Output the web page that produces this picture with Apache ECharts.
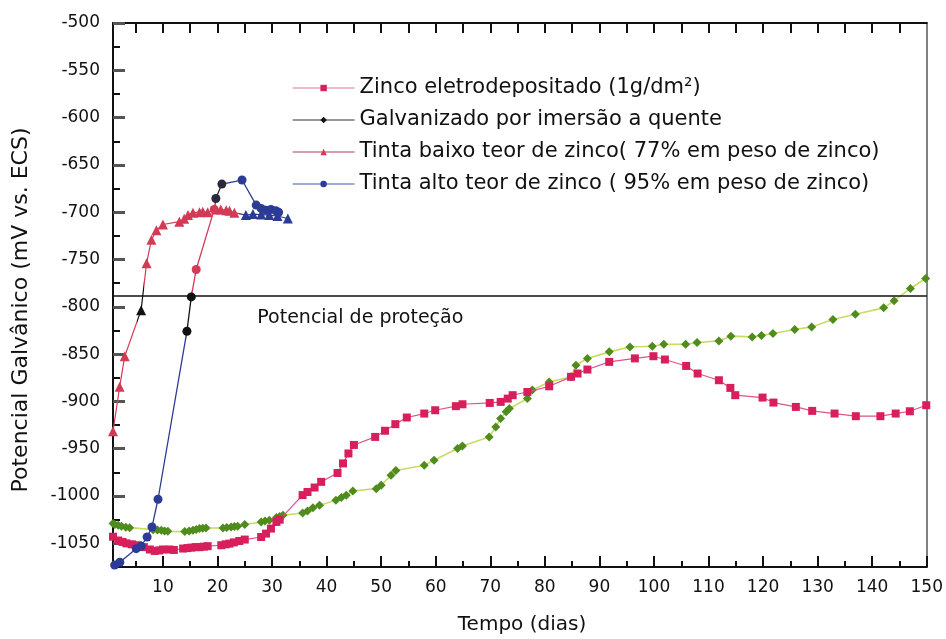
<!DOCTYPE html>
<html>
<head>
<meta charset="utf-8">
<script src="https://cdn.jsdelivr.net/npm/echarts@6/dist/echarts.min.js"></script>
<style>
  html, body { margin: 0; padding: 0; background: #ffffff; }
  #chart { width: 946px; height: 639px; }
</style>
</head>
<body>
<div id="chart"></div>
<script>
// Series names (legend order)
const nameZinco = 'Zinco eletrodepositado (1g/dm²)';
const nameGalv = 'Galvanizado por imersão a quente';
const nameBaixo = 'Tinta baixo teor de zinco( 77% em peso de zinco)';
const nameAlto = 'Tinta alto teor de zinco ( 95% em peso de zinco)';

// [tempo (dias), potencial (mV vs. ECS)]
const zincoEletro = [
  [0.85, -1043], [1.8, -1047], [2.6, -1048.5], [3.3, -1050], [4.3, -1051], [5.4, -1052],
  [6.5, -1054], [7.6, -1056.5], [8.5, -1058], [9.3, -1057.5], [10, -1056.5], [11.2, -1056.5],
  [12, -1057], [13.7, -1055.5], [14.5, -1055], [15.2, -1054.5], [16, -1054], [16.7, -1054],
  [17.5, -1053.5], [18.2, -1053], [20.7, -1052], [21.5, -1051], [22.2, -1050.3], [23, -1049],
  [24, -1047.5], [25, -1046], [28, -1043.3], [28.9, -1039.7], [29.8, -1034.4], [30.8, -1027.4],
  [31.4, -1025], [35.6, -999], [36.5, -995.7], [37.8, -991], [39, -985], [42, -975.6],
  [43, -965.5], [44, -955], [45, -946], [48.9, -937.5], [50.7, -931], [52.6, -924],
  [54.7, -917], [57.9, -912.8], [59.9, -909.3], [63.7, -905], [64.9, -903], [69.9, -901.6],
  [71.9, -900.5], [73.2, -897], [74.1, -893.4], [76.8, -890], [80.8, -884], [84.8, -874],
  [86, -870.5], [87.8, -866.3], [91.8, -858.2], [96.5, -854.5], [99.9, -852.2], [102, -855.7],
  [105.9, -862.5], [108, -870.5], [111.9, -877.6], [114, -885.7], [114.9, -893.4], [119.9, -895.9],
  [121.9, -901.2], [126, -905.8], [129, -910], [133.1, -912.8], [137, -915.6], [141.5, -915.6],
  [144.3, -912.8], [146.9, -910.4], [149.9, -904]
];

const galvanizado = [
  [0.85, -1029], [1.2, -1030], [1.8, -1031], [2.4, -1032], [3.2, -1033], [3.9, -1033.4],
  [8.2, -1035.5], [9, -1036], [9.7, -1036.2], [10.3, -1037], [10.9, -1037.3], [14, -1037.6],
  [14.8, -1037], [15.5, -1036.2], [16.1, -1035.3], [16.7, -1034.4], [17.3, -1034], [17.9, -1033.8],
  [21, -1033.8], [21.7, -1033.3], [22.5, -1032.7], [23.1, -1032.3], [23.7, -1032], [25, -1030],
  [28, -1027.4], [28.7, -1026.5], [29.5, -1025.6], [30.8, -1022.8], [31.4, -1021.5], [32, -1020.3],
  [35.6, -1017.9], [36.5, -1015.8], [37.5, -1012.5], [38.7, -1009.8], [41.7, -1004.5], [42.7, -1001.5],
  [43.6, -999.2], [44.8, -994.6], [49.1, -992.2], [50, -988.6], [51.8, -978], [52.7, -973],
  [57.9, -967.5], [59.7, -962.2], [64, -949.8], [64.9, -947], [69.8, -937.5], [71, -927],
  [71.9, -918], [72.9, -911], [73.5, -907.5], [76.8, -897], [77.7, -888], [80.8, -879.4],
  [84.8, -874], [85.7, -861.7], [87.8, -854.6], [91.8, -847.6], [95.6, -842.5], [99.7, -841.6],
  [101.8, -839.5], [105.8, -839.5], [107.9, -837.7], [111.9, -836], [114.1, -831], [118, -831.8],
  [119.7, -830.3], [121.8, -828.2], [125.8, -824], [128.9, -821.2], [132.8, -813.4], [136.9, -807.8],
  [142.1, -801.1], [144, -793.7], [147, -780.6], [149.8, -770]
];

const tintaBaixo = [
  [0.85, -931.5], [2.07, -884.6], [3, -852.2], [6, -803.5], [7, -754], [7.9, -729],
  [8.8, -719], [10, -713], [13, -710], [13.9, -707], [14.6, -703], [15.5, -700.5],
  [16.7, -700], [17.3, -699.6], [18.2, -700], [19.7, -697], [20.6, -697], [21.6, -698],
  [22.2, -698.5], [23.1, -700.5], [25.2, -703], [26.5, -702], [28, -702.5], [29.5, -703],
  [31, -704], [32.9, -706.6]
];

const tintaAlto = [
  [1.15, -1073], [2.1, -1070], [5.1, -1055.6], [6, -1053], [7.1, -1043.3], [8, -1032.7],
  [9.1, -1003.4], [14.4, -825.8], [15.2, -789.5], [16.1, -760.5], [19.4, -697], [19.7, -685.5],
  [20.8, -670.3], [24.5, -666], [27.1, -692.5], [28, -696], [28.9, -697.8], [29.8, -697],
  [30.7, -698.5], [31.2, -700]
];

// Axis ticks and labels
const xLabelValues = [10, 20, 30, 40, 50, 60, 70, 80, 90, 100, 110, 120, 130, 140, 150];
const xMinorTicks = [5, 15, 25, 35, 45, 55, 65, 75, 85, 95, 105, 115, 125, 135, 145];
const xTopTicks = [5, 10, 15, 20, 25, 30, 35, 40, 45, 50, 55, 60, 65, 70, 75, 80, 85, 90,
  95, 100, 105, 110, 115, 120, 125, 130, 135, 140, 145];
const yLabelValues = [-1050, -1000, -950, -900, -850, -800, -750, -700, -650, -600, -550, -500];
const yMinorTicks = [-1075, -1025, -975, -925, -875, -825, -775, -725, -675, -625, -575, -525];

const protectionPotential = -788;

const X_MIN = 0.85, X_MAX = 150, Y_MIN = -1075, Y_MAX = -500;
const FONT = 'DejaVu Sans';
const INK = '#111111';

const colPink = '#d81e5b';
const colGreen = '#4f8c1d';
const colRed = '#d33a55';
const colBlue = '#2b3b96';

function xAxisBase(extra) {
  return Object.assign({
    type: 'value', min: X_MIN, max: X_MAX,
    splitLine: { show: false },
    axisLabel: { show: false },
    axisLine: { show: false },
    axisTick: { show: false }
  }, extra);
}
function yAxisBase(extra) {
  return Object.assign({
    type: 'value', min: Y_MIN, max: Y_MAX,
    splitLine: { show: false },
    axisLabel: { show: false },
    axisLine: { show: false },
    axisTick: { show: false }
  }, extra);
}

const chart = echarts.init(document.getElementById('chart'), null, { renderer: 'canvas' });

const option = {
  animation: false,
  backgroundColor: '#ffffff',
  grid: { left: 113, right: 18, top: 23, bottom: 72, containLabel: false },
  xAxis: [
    xAxisBase({
      position: 'bottom',
      axisLine: { show: true, onZero: false, lineStyle: { color: INK, width: 2 } },
      axisTick: { show: true, inside: true, length: 11, customValues: xLabelValues,
        lineStyle: { color: INK, width: 2 } },
      axisLabel: { show: true, customValues: xLabelValues, margin: 12,
        formatter: v => String(v),
        fontFamily: FONT, fontSize: 17, color: INK }
    }),
    xAxisBase({
      position: 'bottom',
      axisTick: { show: true, inside: true, length: 6, customValues: xMinorTicks,
        lineStyle: { color: INK, width: 2 } }
    }),
    xAxisBase({
      position: 'top',
      axisLine: { show: true, onZero: false, lineStyle: { color: INK, width: 2 } },
      axisTick: { show: true, inside: true, length: 10, customValues: xTopTicks,
        lineStyle: { color: INK, width: 2 } }
    })
  ],
  yAxis: [
    yAxisBase({
      position: 'left',
      axisLine: { show: true, onZero: false, lineStyle: { color: INK, width: 2 } },
      axisTick: { show: true, inside: true, length: 12, customValues: yLabelValues,
        lineStyle: { color: '#555555', width: 3 } },
      axisLabel: { show: true, customValues: yLabelValues, margin: 13,
        formatter: v => String(v),
        fontFamily: FONT, fontSize: 17, color: INK }
    }),
    yAxisBase({
      position: 'left',
      axisTick: { show: true, inside: true, length: 7, customValues: yMinorTicks,
        lineStyle: { color: INK, width: 2 } }
    }),
    yAxisBase({
      position: 'right',
      axisLine: { show: true, onZero: false, lineStyle: { color: '#808080', width: 2 } }
    })
  ],
  visualMap: [
    {
      type: 'piecewise', show: false, seriesIndex: 2, dimension: 0,
      pieces: [
        { lt: 5.3, color: colRed },
        { gte: 5.3, lt: 6.6, color: INK },
        { gte: 6.6, lt: 24, color: colRed },
        { gte: 24, color: colBlue }
      ]
    },
    {
      type: 'piecewise', show: false, seriesIndex: 3, dimension: 0,
      pieces: [
        { lt: 14.2, color: colBlue },
        { gte: 14.2, lt: 15.4, color: INK },
        { gte: 15.4, lt: 19.55, color: colRed },
        { gte: 19.55, lt: 21.5, color: '#2a2a3a' },
        { gte: 21.5, color: colBlue }
      ]
    }
  ],
  legend: {
    orient: 'vertical', left: 287, top: 72,
    itemWidth: 62, itemHeight: 8, itemGap: 10,
    textStyle: { fontFamily: FONT, fontSize: 21, color: INK, lineHeight: 22 },
    data: [
      { name: nameZinco, itemStyle: { color: colPink }, lineStyle: { color: '#e07aa0', width: 1.2 } },
      { name: nameGalv, itemStyle: { color: INK }, lineStyle: { color: '#333333', width: 1.2 } },
      { name: nameBaixo, itemStyle: { color: colRed }, lineStyle: { color: '#b04050', width: 1.2 } },
      { name: nameAlto, itemStyle: { color: colBlue }, lineStyle: { color: '#4455a8', width: 1.2 } }
    ]
  },
  series: [
    {
      name: nameZinco, type: 'line', data: zincoEletro,
      symbol: 'rect', symbolSize: 8,
      itemStyle: { color: colPink },
      lineStyle: { color: '#e0528a', width: 1.2 },
      z: 3,
      markLine: {
        silent: true, symbol: 'none',
        label: { show: false },
        lineStyle: { color: INK, width: 1.6, type: 'solid' },
        data: [{ yAxis: protectionPotential }]
      }
    },
    {
      name: nameGalv, type: 'line', data: galvanizado,
      symbol: 'diamond', symbolSize: 9,
      itemStyle: { color: colGreen },
      lineStyle: { color: '#c9dc62', width: 1.6 },
      z: 2
    },
    {
      name: nameBaixo, type: 'line', data: tintaBaixo,
      symbol: 'triangle', symbolSize: 10,
      lineStyle: { width: 1.2 },
      z: 4
    },
    {
      name: nameAlto, type: 'line', data: tintaAlto,
      symbol: 'circle', symbolSize: 9,
      lineStyle: { width: 1.3 },
      z: 5
    }
  ]
};

chart.setOption(option);

// Titles and the protection-potential caption
const lblPos = chart.convertToPixel({ xAxisIndex: 0, yAxisIndex: 0 }, [27.3, protectionPotential]);
chart.setOption({
  graphic: [
    {
      type: 'text', x: 522, y: 625,
      style: { text: 'Tempo (dias)', font: '20px "DejaVu Sans"', fill: INK,
        align: 'center', verticalAlign: 'middle' }
    },
    {
      type: 'text', x: 21, y: 310, rotation: Math.PI / 2,
      style: { text: 'Potencial Galvânico (mV vs. ECS)', font: '22px "DejaVu Sans"', fill: INK,
        align: 'center', verticalAlign: 'middle' }
    },
    {
      type: 'text', x: lblPos[0], y: lblPos[1] + 23,
      style: { text: 'Potencial de proteção', font: '19px "DejaVu Sans"', fill: INK,
        align: 'left', verticalAlign: 'middle' }
    }
  ]
});
</script>
</body>
</html>
